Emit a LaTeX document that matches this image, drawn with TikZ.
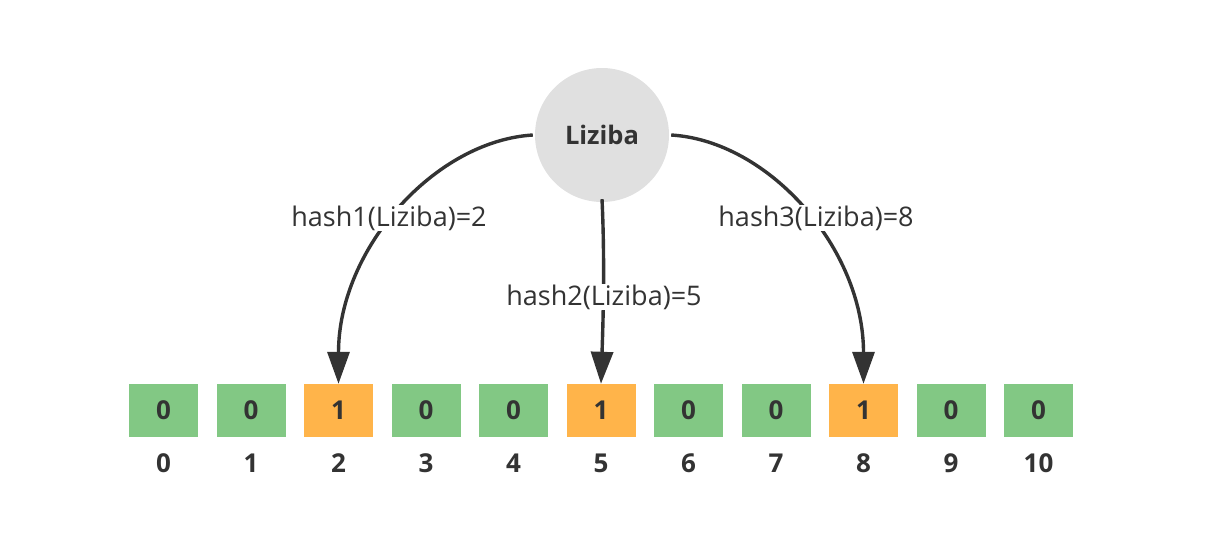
\documentclass[tikz,border=0pt]{standalone}
\usepackage{fontspec}
\setmainfont{Open Sans}
\usetikzlibrary{arrows.meta,calc}
\definecolor{cgreen}{HTML}{82C884}
\definecolor{corange}{HTML}{FFB44A}
\definecolor{cgray}{HTML}{E0E0E0}
\definecolor{ink}{HTML}{333333}
\tikzset{
  cell/.style={minimum width=69pt,minimum height=53pt,inner sep=0pt,draw=none,text=ink,font=\fontsize{26}{28}\selectfont\bfseries},
  zero/.style={cell,fill=cgreen},
  one/.style={cell,fill=corange},
  idx/.style={text=ink,font=\fontsize{26}{28}\selectfont\bfseries,inner sep=0pt},
  hashlbl/.style={text=ink,fill=white,inner sep=1pt,font=\fontsize{27}{30}\selectfont},
  conn/.style={draw=ink,line width=3.4pt,-{Triangle[length=32pt,width=22pt]}},
}
\begin{document}
\begin{tikzpicture}[x=1pt,y=-1pt]
\useasboundingbox (0,0) rectangle (1228,552);
\node[circle,fill=cgray,minimum size=134pt,inner sep=0pt,text=ink,font=\fontsize{25.5}{28}\selectfont\bfseries] (c) at (602,135) {Liziba};
\foreach \i/\v in {0/0,1/0,2/1,3/0,4/0,5/1,6/0,7/0,8/1,9/0,10/0}{
  \ifnum\v=1
    \node[one] (b\i) at ({163.5+87.5*\i},410.5) {1};
  \else
    \node[zero] (b\i) at ({163.5+87.5*\i},410.5) {0};
  \fi
  \node[idx] (n\i) at ({163.5+87.5*\i},463) {\i};
}
\draw[conn] ([xshift=-2pt]c.west) .. controls ($(c.west)+(-100,6)$) and ($(b2.north)+(0,-135)$) .. (b2.north);
\draw[conn] ([yshift=3pt]c.south) .. controls ($(c.south)+(3,60)$) and ($(b5.north)+(2,-60)$) .. (b5.north);
\draw[conn] ([xshift=2pt]c.east) .. controls ($(c.east)+(100,6)$) and ($(b8.north)+(0,-135)$) .. (b8.north);
\node[hashlbl] (h1) at (389,218) {hash1(Liziba)=2};
\node[hashlbl] (h2) at (604,297) {hash2(Liziba)=5};
\node[hashlbl] (h3) at (816,218) {hash3(Liziba)=8};
\end{tikzpicture}
\end{document}
